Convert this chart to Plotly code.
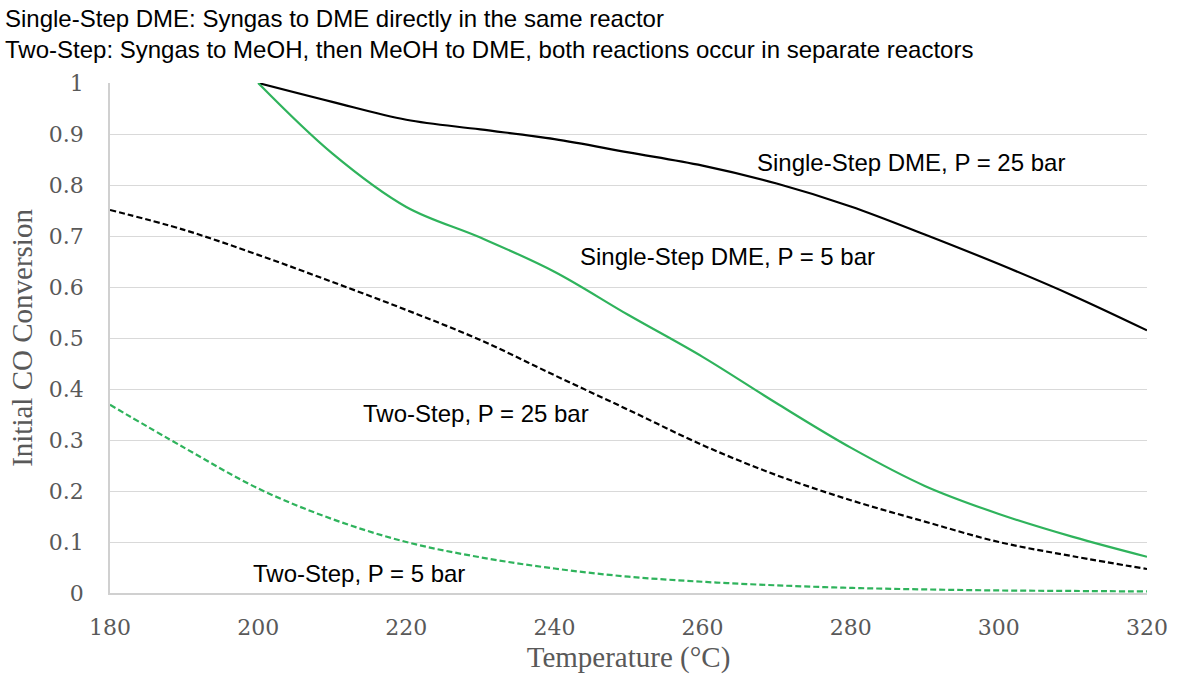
import plotly.graph_objects as go

# Temperature grid (°C)
temps = [180, 190, 200, 210, 220, 230, 240, 250, 260, 270, 280, 290, 300, 310, 320]
temps_single = [200, 210, 220, 230, 240, 250, 260, 270, 280, 290, 300, 310, 320]

# Initial CO conversion
single_25 = [1.0, 0.963, 0.928, 0.909, 0.890, 0.864, 0.838, 0.803, 0.758, 0.703, 0.645, 0.583, 0.515]
single_5 = [1.0, 0.862, 0.757, 0.697, 0.630, 0.545, 0.463, 0.372, 0.285, 0.210, 0.155, 0.110, 0.071]
two_25 = [0.751, 0.712, 0.663, 0.610, 0.555, 0.496, 0.427, 0.359, 0.290, 0.231, 0.182, 0.140, 0.100, 0.072, 0.047]
two_5 = [0.369, 0.285, 0.205, 0.145, 0.100, 0.070, 0.048, 0.032, 0.022, 0.015, 0.010, 0.007, 0.005, 0.004, 0.003]

x_ticks = [180, 200, 220, 240, 260, 280, 300, 320]
y_ticks = [0, 0.1, 0.2, 0.3, 0.4, 0.5, 0.6, 0.7, 0.8, 0.9, 1]
y_tick_text = ["0", "0.1", "0.2", "0.3", "0.4", "0.5", "0.6", "0.7", "0.8", "0.9", "1"]

GREEN = "#2fb35c"
SANS = "Liberation Sans, Arial, sans-serif"
SERIF = "DejaVu Serif, Georgia, serif"
TITLE_SERIF = "Liberation Serif, Times New Roman, serif"
DASH = "6px,3px"

fig = go.Figure()
fig.add_trace(go.Scatter(x=temps_single, y=single_25, mode="lines",
                         line=dict(color="black", width=2.2, shape="spline")))
fig.add_trace(go.Scatter(x=temps_single, y=single_5, mode="lines",
                         line=dict(color=GREEN, width=2.2, shape="spline")))
fig.add_trace(go.Scatter(x=temps, y=two_25, mode="lines",
                         line=dict(color="black", width=2.2, dash=DASH, shape="spline")))
fig.add_trace(go.Scatter(x=temps, y=two_5, mode="lines",
                         line=dict(color=GREEN, width=2.2, dash=DASH, shape="spline")))

labels = [
    ("Single-Step DME, P = 25 bar", 288.1, 0.845),
    ("Single-Step DME, P = 5 bar", 263.3, 0.659),
    ("Two-Step, P = 25 bar", 229.4, 0.351),
    ("Two-Step, P = 5 bar", 213.6, 0.039),
]
for text, x, y in labels:
    fig.add_annotation(x=x, y=y, text=text, showarrow=False, xanchor="center",
                       yanchor="middle", font=dict(family=SANS, size=24, color="black"))

fig.add_annotation(xref="paper", yref="paper", x=-0.103, y=1.157, xanchor="left", yanchor="top",
                   align="left", showarrow=False,
                   text="Single-Step DME: Syngas to DME directly in the same reactor<br>"
                        "Two-Step: Syngas to MeOH, then MeOH to DME, both reactions occur in separate reactors",
                   font=dict(family=SANS, size=24, color="black"))

fig.update_layout(
    width=1180, height=682,
    margin=dict(l=110, r=33, t=83, b=89),
    paper_bgcolor="white", plot_bgcolor="white",
    showlegend=False,
    xaxis=dict(range=[180, 320], tickvals=x_ticks, showgrid=False, zeroline=False,
               showline=True, linecolor="#d0d0d0", linewidth=1.5,
               ticks="", ticklabelstandoff=14,
               tickfont=dict(family=SERIF, size=22, color="#595959"),
               title=dict(text="Temperature (°C)", standoff=8,
                          font=dict(family=TITLE_SERIF, size=29, color="#595959"))),
    yaxis=dict(range=[0, 1], tickvals=y_ticks, ticktext=y_tick_text,
               showgrid=True, gridcolor="#d9d9d9", gridwidth=1, zeroline=False,
               showline=True, linecolor="#d0d0d0", linewidth=1.5,
               ticks="", ticklabelstandoff=20,
               tickfont=dict(family=SERIF, size=22, color="#595959"),
               title=dict(text="Initial CO Conversion", standoff=8,
                          font=dict(family=TITLE_SERIF, size=29, color="#595959"))),
)

fig.write_html("out.html")
